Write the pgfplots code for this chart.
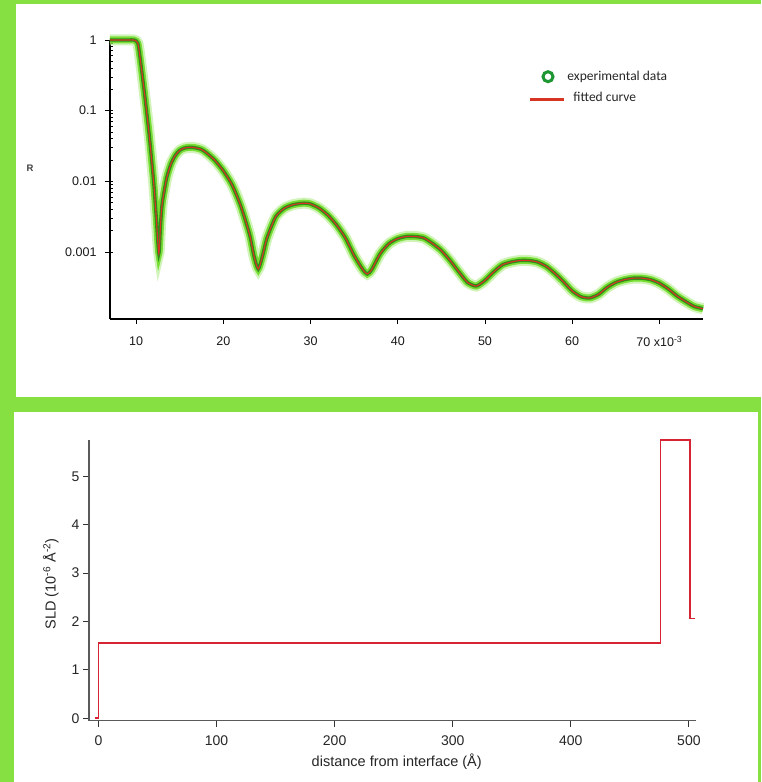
\documentclass[border=0pt]{standalone}
\usepackage{pgfplots}
\usepackage{pgfplotstable}
\pgfplotsset{compat=1.18}
\usepackage{fontspec}
\setmainfont{Liberation Sans}
\newfontfamily\carlito{Carlito}

\definecolor{framegreen}{RGB}{134,224,66}
\definecolor{glowgreen}{RGB}{118,222,52}
\definecolor{coregreen}{RGB}{46,140,26}
\definecolor{ringgreen}{RGB}{30,150,50}
\definecolor{fitred}{RGB}{216,52,36}
\definecolor{sldred}{RGB}{214,36,52}
\definecolor{axisgray}{RGB}{90,90,90}

% reflectivity: q (10^-3 1/A), measured R, fitted R
\pgfplotstableread{
q     Rexp     Rfit
7.0   1.000    1.000
8.0   1.000    1.000
9.0   1.000    1.000
9.8   0.995    0.995
10.2  0.891    0.891
10.5  0.501    0.501
11.0  0.158    0.158
11.5  0.0447   0.0447
12.0  0.0100   0.0100
12.3  0.00316  0.00316
12.6  0.00096  0.00095
12.8  0.00251  0.00251
13.0  0.00501  0.00501
13.5  0.0112   0.0112
14.0  0.0178   0.0178
14.5  0.0234   0.0234
15.0  0.0275   0.0275
15.5  0.0295   0.0295
16.0  0.0302   0.0302
16.5  0.0302   0.0302
17.0  0.0295   0.0295
17.5  0.0282   0.0282
18.0  0.0257   0.0257
19.0  0.0200   0.0200
20.0  0.0141   0.0141
21.0  0.00891  0.00891
22.0  0.00447  0.00447
23.0  0.00178  0.00178
23.5  0.000891 0.000891
24.0  0.000575 0.000575
24.5  0.000891 0.000891
25.0  0.00158  0.00158
26.0  0.00316  0.00316
27.0  0.00417  0.00417
28.0  0.00468  0.00468
29.0  0.00490  0.00490
29.5  0.00490  0.00490
30.0  0.00479  0.00479
31.0  0.00417  0.00417
32.0  0.00331  0.00331
33.0  0.00240  0.00240
34.0  0.00158  0.00158
35.0  0.000891 0.000891
36.0  0.000562 0.000562
36.5  0.000490 0.000490
37.0  0.000562 0.000562
38.0  0.000955 0.000955
39.0  0.00132  0.00132
40.0  0.00155  0.00155
41.0  0.00166  0.00166
42.0  0.00166  0.00166
43.0  0.00158  0.00158
44.0  0.00132  0.00132
45.0  0.00105  0.00105
46.0  0.000759 0.000759
47.0  0.000525 0.000525
48.0  0.000372 0.000372
49.0  0.000331 0.000331
50.0  0.000398 0.000398
51.0  0.000525 0.000525
52.0  0.000661 0.000661
53.0  0.000724 0.000724
54.0  0.000759 0.000759
55.0  0.000759 0.000759
56.0  0.000724 0.000724
57.0  0.000631 0.000631
58.0  0.000501 0.000501
59.0  0.000380 0.000380
60.0  0.000282 0.000282
61.0  0.000234 0.000234
62.0  0.000224 0.000224
63.0  0.000251 0.000251
64.0  0.000316 0.000316
65.0  0.000372 0.000372
66.0  0.000407 0.000407
67.0  0.000427 0.000427
68.0  0.000427 0.000427
69.0  0.000407 0.000407
70.0  0.000363 0.000363
71.0  0.000302 0.000302
72.0  0.000240 0.000240
73.0  0.000200 0.000200
74.0  0.000170 0.000170
75.0  0.000158 0.000158
}\refltable

% scattering length density profile
\pgfplotstableread{
z     sld
-3    0
0     0
0     1.56
476   1.56
476   5.75
501   5.75
501   2.06
505   2.06
}\sldtable

\begin{document}
\begin{tikzpicture}[x=1pt,y=1pt]
\path[use as bounding box] (0,0) rectangle (761,782);
\fill[framegreen] (0,0) rectangle (761,782);
\fill[white] (16,385) rectangle (761,778);
\fill[white] (14,0) rectangle (758,370);

% ---- reflectivity ----
\begin{axis}[
  at={(110pt,463pt)}, anchor=south west,
  scale only axis, width=593pt, height=279pt,
  ymode=log, xmin=7, xmax=75, ymin=1.13e-4, ymax=1,
  axis lines=left, axis line style={-, black, line width=1.1pt},
  clip=false,
  tick align=outside, major tick length=5pt, minor tick length=3pt,
  tick style={black, line width=0.9pt},
  minor y tick style={xshift=3pt},
  xtick={10,20,30,40,50,60,70},
  xticklabels={10,20,30,40,50,60,{70 x10\textsuperscript{-3}}},
  ytick={0.001,0.01,0.1,1},
  yticklabels={0.001,0.01,0.1,1},
  minor x tick num=0,
  ticklabel style={font=\fontsize{12.5}{14}\selectfont, text=black!90},
  xticklabel style={yshift=-9pt},
  yticklabel style={xshift=-5pt},
  ylabel={R},
  every axis y label/.style={at={(axis description cs:-0.135,0.541)}, anchor=center,
    font=\fontsize{9.5}{10}\selectfont\bfseries, text=black!75},
  legend style={draw=none, fill=none, at={(axis description cs:0.70,0.903)},
    anchor=north west, font=\carlito\fontsize{13.5}{15}\selectfont,
    row sep=6pt, text=black!85},
  legend cell align=left,
]
\addplot[glowgreen!55, line width=11pt, opacity=0.6, smooth, tension=0.4, forget plot] table[x=q, y=Rexp] {\refltable};
\addplot[glowgreen, line width=7pt, smooth, tension=0.4, forget plot] table[x=q, y=Rexp] {\refltable};
\addplot[coregreen, line width=3.4pt, smooth, tension=0.4,
  legend image code/.code={\draw[ringgreen, line width=3pt] (0.33cm,0pt) circle (5pt);}]
  table[x=q, y=Rexp] {\refltable};
\addlegendentry{experimental data}
\addplot[fitred, line width=1.1pt, smooth, tension=0.4,
  legend image code/.code={\draw[fitred, line width=3pt] (-0.31cm,-2pt) -- (0.89cm,-2pt);}]
  table[x=q, y=Rfit] {\refltable};
\addlegendentry{\hspace{6pt}fitted curve}
\end{axis}

% ---- SLD profile ----
\begin{axis}[
  at={(89pt,61.3pt)}, anchor=south west,
  scale only axis, width=607pt, height=280.7pt,
  xmin=-8, xmax=506, ymin=-0.05, ymax=5.75,
  axis lines=left, axis line style={-, axisgray, line width=1.4pt},
  clip=false,
  tick align=outside, major tick length=6pt,
  tick style={black!80, line width=1pt},
  xtick={0,100,200,300,400,500},
  ytick={0,1,2,3,4,5},
  /pgf/number format/assume math mode=true,
  ticklabel style={font=\fontsize{14}{16}\selectfont, text=black!85},
  xticklabel style={yshift=-5pt},
  xlabel={distance from interface (Å)},
  ylabel={SLD (10\textsuperscript{-6} Å\textsuperscript{-2})},
  every axis x label/.style={at={(axis description cs:0.507,-0.146)}, anchor=center,
    font=\fontsize{14.5}{16}\selectfont, text=black!85},
  every axis y label/.style={at={(axis description cs:-0.063,0.487)}, anchor=center,
    rotate=90, font=\fontsize{14.5}{16}\selectfont, text=black!85},
]
\addplot[sldred, line width=1.7pt] table[x=z, y=sld] {\sldtable};
\end{axis}
\end{tikzpicture}
\end{document}
